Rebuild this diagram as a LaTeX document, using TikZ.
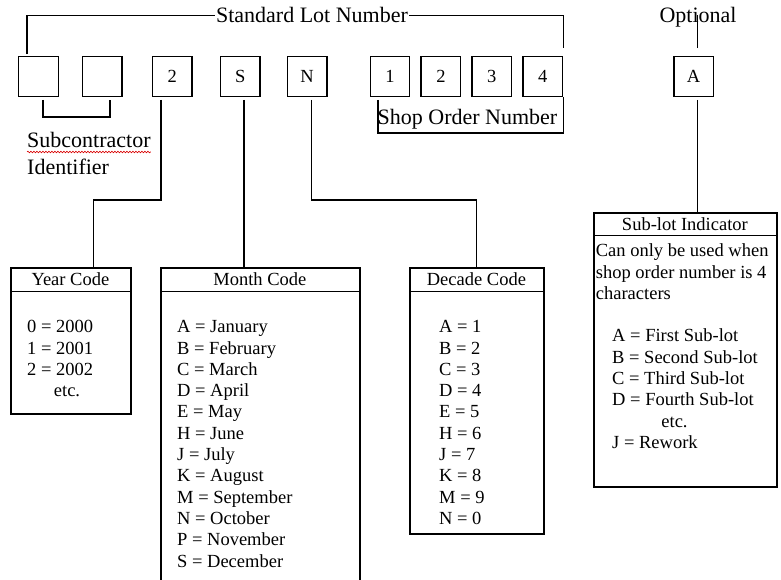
\documentclass[tikz,border=0pt]{standalone}
\usepackage{fontspec}
\setmainfont{Liberation Serif}
\usetikzlibrary{positioning,calc,decorations.pathmorphing}
\newcommand\cellfont{\fontsize{18.5}{21.3}\selectfont}
\newcommand\labelfont{\fontsize{22}{26}\selectfont}

\begin{document}
\begin{tikzpicture}[x=1pt,y=-1pt,
  digit/.style={draw,line width=1.4pt,minimum size=39.5pt,inner sep=0pt,font=\cellfont},
  frame/.style={draw,line width=1.6pt,anchor=north west,inner sep=0pt},
  head/.style={draw,line width=0.8pt,anchor=north west,inner sep=0pt,font=\cellfont},
  entry/.style={anchor=base west,inner sep=0pt,font=\cellfont},
  caption/.style={anchor=base,inner sep=1pt,font=\labelfont},
  link/.style={line width=1.3pt}]
\useasboundingbox (0,0) rectangle (781,580);

% lot number boxes
\node[digit] (b1) at (38.5,76.5) {};
\node[digit,right=23pt of b1] (b2) {};
\node[digit,right=29pt of b2] (b3) {2};
\node[digit,right=27pt of b3] (bS) {S};
\node[digit,right=26pt of bS] (bN) {N};
\node[digit,right=42pt of bN] (o1) {1};
\node[digit,right=10pt of o1] (o2) {2};
\node[digit,right=10pt of o2] (o3) {3};
\node[digit,right=10pt of o3] (o4) {4};
\node[digit,right=110pt of o4] (bA) {A};

% labels
\node[caption] (std) at (312,23) {Standard Lot Number};
\node[caption] (opt) at (698,23) {Optional};
\node[caption,inner sep=0pt] (shop) at (467.5,125) {Shop Order Number};
\node[caption,anchor=base west,inner sep=0pt] (sub1) at (27,148) {Subcontractor};
\node[caption,anchor=base west,inner sep=0pt] (sub2) at (27,175) {Identifier};
\draw[red!85!black,line width=0.6pt,decorate,decoration={snake,amplitude=0.8pt,segment length=3pt}]
  ([yshift=-4pt]sub1.base west) -- ([yshift=-4pt]sub1.base east);

\draw[link] ([xshift=-11.5pt,yshift=2pt]b1.north) |- (std.west);
\draw[link] (std.east) -| ([xshift=0.5pt,yshift=8pt]o4.north east);
\draw[link] ([xshift=4pt,yshift=8pt]bA.north) -- ([xshift=4pt]bA.north |- 0,15);
\draw[link] ([xshift=4.5pt,yshift=-3pt]b1.south) -- ++(0,17) -| ([xshift=7.5pt,yshift=-3pt]b2.south);
\draw[link] ([xshift=-12pt,yshift=-3pt]o1.south) -- ++(0,33) -| ([xshift=0.5pt]o4.south east);

% code tables
\node[frame,minimum width=120pt,minimum height=146pt] (yearbox) at (10,267) {};
\node[head,minimum width=120pt,minimum height=24pt] (yearhead) at (10,267) {Year Code};
\node[frame,minimum width=199pt,minimum height=340pt] (monthbox) at (160,267) {};
\node[head,minimum width=199pt,minimum height=24pt] (monthhead) at (160,267) {Month Code};
\node[frame,minimum width=134pt,minimum height=266pt] (decadebox) at (409,267) {};
\node[head,minimum width=134pt,minimum height=24pt] (decadehead) at (409,267) {Decade Code};
\node[frame,minimum width=183pt,minimum height=274pt] (subbox) at (593,212) {};
\node[head,minimum width=183pt,minimum height=23pt] (subhead) at (593,212) {Sub-lot Indicator};

\draw[link] ([xshift=-11.3pt,yshift=-3pt]b3.south) -- ++(0,100) -| ([xshift=23pt]yearhead.north);
\draw[link] ([xshift=3.7pt,yshift=-3pt]bS.south) -- ([xshift=3.7pt]bS.south |- monthhead.north);
\draw[link] ([xshift=4.5pt,yshift=-3pt]bN.south) -- ++(0,100) -| (decadehead.north);
\draw[link] ([xshift=4pt,yshift=-3pt]bA.south) -- ([xshift=4pt]bA.south |- subhead.north);

% table entries
\foreach \txt [count=\i] in {0 = 2000, 1 = 2001, 2 = 2002}
  \node[entry] (year\i) at (27,{332.7+21.3*(\i-1)}) {\txt};
\node[entry,anchor=base] (yearetc) at (67,396.6) {etc.};

\foreach \txt [count=\i] in {A = January, B = February, C = March, D = April, E = May, H = June,
  J = July, K = August, M = September, N = October, P = November, S = December}
  \node[entry] (month\i) at (177,{332.7+21.3*(\i-1)}) {\txt};

\foreach \txt [count=\i] in {A = 1, B = 2, C = 3, D = 4, E = 5, H = 6, J = 7, K = 8, M = 9, N = 0}
  \node[entry] (decade\i) at (439,{332.7+21.3*(\i-1)}) {\txt};

\foreach \txt [count=\i] in {Can only be used when, shop order number is 4, characters}
  \node[entry] (note\i) at (595.7,{256.7+21.3*(\i-1)}) {\txt};
\foreach \txt [count=\i] in {A = First Sub-lot, B = Second Sub-lot, C = Third Sub-lot, D = Fourth Sub-lot}
  \node[entry] (lot\i) at (612,{341.9+21.3*(\i-1)}) {\txt};
\node[entry,anchor=base] (lotetc) at (674.5,427.1) {etc.};
\node[entry] (lot5) at (612,448.4) {J = Rework};
\end{tikzpicture}
\end{document}
